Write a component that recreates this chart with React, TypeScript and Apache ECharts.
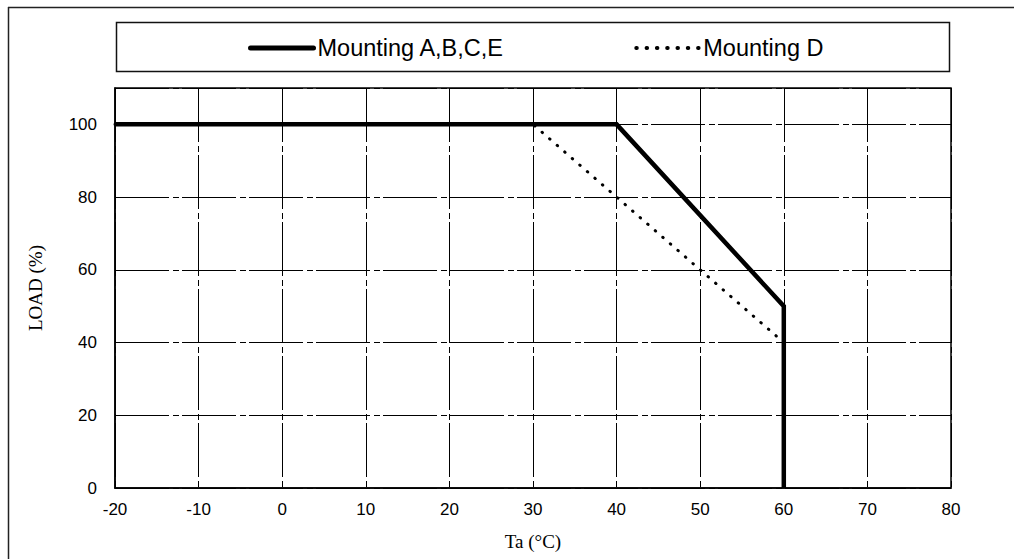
import { useEffect, useRef } from "react";
import * as echarts from "echarts";

// Derating curves: ambient temperature (°C) vs. allowed load (%)
const seriesNames = ["Mounting A,B,C,E", "Mounting D"];
const abceTemp = [-20, 40, 60, 60];
const abceLoad = [100, 100, 50, 0];
const dTemp = [-20, 30, 60, 60];
const dLoad = [100, 100, 40, 0];

const xAxisTitle = "Ta (°C)";
const yAxisTitle = "LOAD (%)";

const sans = "'Liberation Sans', Arial, sans-serif";
const serif = "'Liberation Serif', 'Times New Roman', serif";
const gridDash = [54, 4, 6, 3];
const solidStyle = { color: "#000", width: 4.5, cap: "butt", join: "miter" };
const dottedStyle = { color: "#000", width: 3, type: [0.5, 9.5], cap: "round" };

export default function App() {
  const ref = useRef<HTMLDivElement>(null);

  useEffect(() => {
    document.body.style.margin = "0";
    if (!ref.current) return;
    const chart = echarts.init(ref.current, undefined, { renderer: "svg" });

    const pairs = (xs: number[], ys: number[]) => xs.map((x, i) => [x, ys[i]]);

    chart.setOption({
      animation: false,
      backgroundColor: "#fff",
      grid: {
        left: 115,
        right: 63,
        top: 88,
        bottom: 71,
        show: true,
        borderColor: "#000",
        borderWidth: 1.5,
        containLabel: false,
      },
      legend: {
        left: 248,
        top: 36,
        padding: 0,
        itemWidth: 63,
        itemHeight: 14,
        itemGap: 130,
        itemStyle: { opacity: 0 },
        textStyle: { fontFamily: sans, fontSize: 23.5, color: "#000", padding: [0, 0, 0, -1] },
        data: [
          { name: seriesNames[0], lineStyle: { width: 5, cap: "round" } },
          { name: seriesNames[1], lineStyle: { width: 4, type: [0.5, 9.8], cap: "round" } },
        ],
      },
      graphic: [
        {
          type: "line",
          shape: { x1: 8.5, y1: 7, x2: 8.5, y2: 559 },
          style: { stroke: "#222", lineWidth: 1.5 },
        },
        {
          type: "line",
          shape: { x1: 8, y1: 7.5, x2: 1014, y2: 7.5 },
          style: { stroke: "#222", lineWidth: 1.5 },
        },
        {
          type: "rect",
          shape: { x: 116.5, y: 22.5, width: 833, height: 49 },
          style: { fill: "none", stroke: "#111", lineWidth: 1.5 },
          z: -1,
        },
      ],
      xAxis: {
        type: "value",
        min: -20,
        max: 80,
        interval: 10,
        name: xAxisTitle,
        nameLocation: "middle",
        nameGap: 44,
        nameTextStyle: { fontFamily: serif, fontSize: 19, color: "#000" },
        axisLine: { show: true, onZero: false, lineStyle: { color: "#000", width: 1.5 } },
        axisTick: { show: false },
        axisLabel: { fontFamily: sans, fontSize: 17, color: "#000", margin: 13 },
        splitLine: { show: true, lineStyle: { color: "#000", width: 1, type: gridDash } },
      },
      yAxis: {
        type: "value",
        min: 0,
        max: 110,
        interval: 20,
        name: yAxisTitle,
        nameLocation: "middle",
        nameGap: 70,
        nameRotate: 90,
        nameTextStyle: { fontFamily: serif, fontSize: 19, color: "#000" },
        axisLine: { show: true, onZero: false, lineStyle: { color: "#000", width: 1.5 } },
        axisTick: { show: false },
        axisLabel: { fontFamily: sans, fontSize: 17, color: "#000", margin: 18, showMaxLabel: false },
        splitLine: { show: true, lineStyle: { color: "#000", width: 1, type: gridDash } },
      },
      series: [
        {
          name: seriesNames[0],
          type: "line",
          data: pairs(abceTemp, abceLoad),
          symbol: "none",
          z: 4,
          lineStyle: solidStyle,
          itemStyle: { color: "#000" },
        },
        {
          name: seriesNames[1],
          type: "line",
          data: pairs(dTemp, dLoad),
          symbol: "none",
          z: 3,
          lineStyle: dottedStyle,
          itemStyle: { color: "#000" },
        },
      ],
    });

    return () => chart.dispose();
  }, []);

  return <div ref={ref} style={{ width: 1014, height: 559 }} />;
}
